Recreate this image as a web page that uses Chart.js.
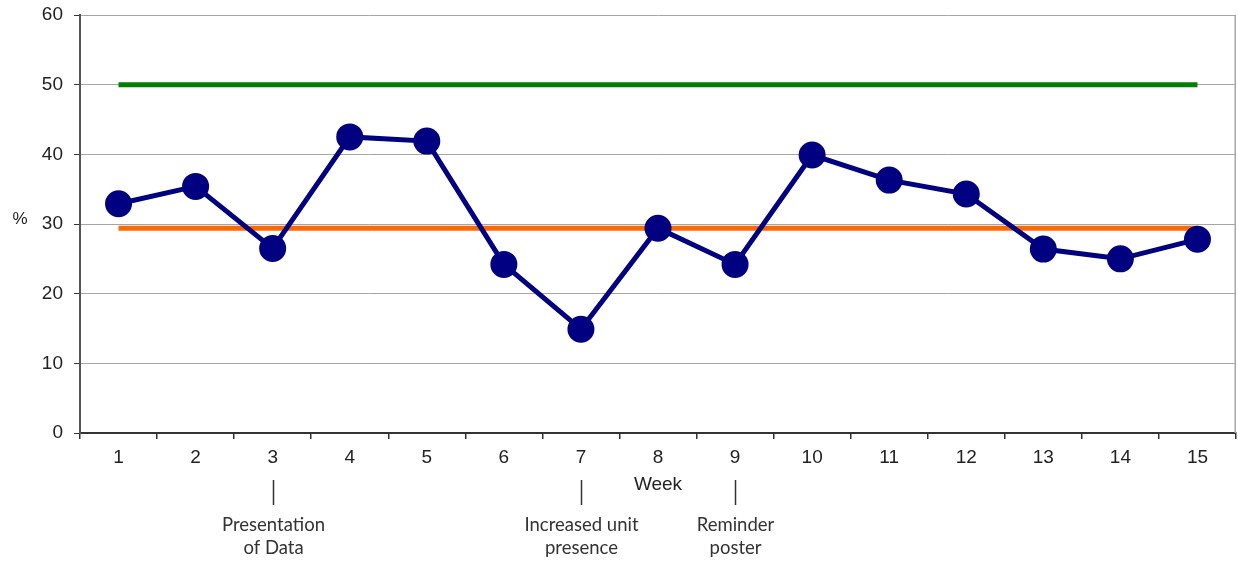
<!DOCTYPE html>
<html>
<head>
<meta charset="utf-8">
<script src="https://cdn.jsdelivr.net/npm/chart.js@4.4.1/dist/chart.umd.min.js"></script>
<style>
html,body{margin:0;padding:0;background:#fff;}
#wrap{width:1238px;height:561px;position:relative;}
</style>
</head>
<body>
<div id="wrap"><canvas id="c" width="1238" height="561"></canvas></div>
<script>
const weeks = ['1','2','3','4','5','6','7','8','9','10','11','12','13','14','15'];
const percent = [32.9, 35.4, 26.5, 42.5, 41.9, 24.2, 14.9, 29.4, 24.2, 39.9, 36.3, 34.3, 26.4, 25.0, 27.8];
const meanValue = 29.4;
const goalValue = 50;
const meanLine = weeks.map(() => meanValue);
const goalLine = weeks.map(() => goalValue);
const yTicks = [0, 10, 20, 30, 40, 50, 60];
const annotations = [
  {week: '3', lines: ['Presentation', 'of Data']},
  {week: '7', lines: ['Increased unit', 'presence']},
  {week: '9', lines: ['Reminder', 'poster']}
];

const extras = {
  id: 'extras',
  afterDraw(chart) {
    const ctx = chart.ctx;
    const x = chart.scales.x, y = chart.scales.y;
    const ca = chart.chartArea;
    ctx.save();
    // right border
    ctx.strokeStyle = '#a6a6a6';
    ctx.lineWidth = 1.5;
    ctx.beginPath();
    ctx.moveTo(ca.right - 0.75, ca.top);
    ctx.lineTo(ca.right - 0.75, ca.bottom);
    ctx.stroke();
    // % label
    ctx.fillStyle = '#222';
    ctx.font = '17px "Liberation Sans", Arial, sans-serif';
    ctx.textAlign = 'center';
    ctx.textBaseline = 'middle';
    ctx.fillText('%', 20, y.getPixelForValue(31) + 2);
    // Week title
    ctx.font = '19px "Liberation Sans", Arial, sans-serif';
    ctx.fillText('Week', (ca.left + ca.right) / 2, ca.bottom + 52);
    // annotations
    annotations.forEach(a => {
      const px = Math.round(x.getPixelForValue(weeks.indexOf(a.week))) + 0.5;
      ctx.strokeStyle = '#333';
      ctx.lineWidth = 1.5;
      ctx.beginPath();
      ctx.moveTo(px, ca.bottom + 47);
      ctx.lineTo(px, ca.bottom + 72);
      ctx.stroke();
      ctx.fillStyle = '#333';
      ctx.font = '18.5px Lato, "Open Sans", sans-serif';
      a.lines.forEach((t, i) => {
        ctx.fillText(t, px, ca.bottom + 92 + i * 23);
      });
    });
    ctx.restore();
  }
};

new Chart(document.getElementById('c'), {
  type: 'line',
  data: {
    labels: weeks,
    datasets: [
      {
        label: '%',
        data: percent,
        borderColor: '#000080',
        backgroundColor: '#000080',
        borderWidth: 5,
        pointRadius: 11,
        pointHoverRadius: 11,
        pointBackgroundColor: '#000080',
        pointBorderColor: '#000080',
        tension: 0,
        order: 0
      },
      {
        label: 'Mean',
        data: meanLine,
        borderColor: '#ff6a00',
        borderWidth: 5,
        pointRadius: 0,
        order: 1
      },
      {
        label: 'Goal',
        data: goalLine,
        borderColor: '#008000',
        borderWidth: 5,
        pointRadius: 0,
        order: 2
      }
    ]
  },
  options: {
    responsive: false,
    animation: false,
    layout: {autoPadding: false, padding: {left: 0, right: 2, top: 15, bottom: 0}},
    plugins: {legend: {display: false}, tooltip: {enabled: false}},
    scales: {
      x: {
        type: 'category',
        offset: true,
        grid: {offset: true, drawOnChartArea: false, drawTicks: true, tickLength: 6, color: '#333', lineWidth: 1.5},
        border: {color: '#333', width: 2},
        ticks: {color: '#222', font: {family: '"Liberation Sans", Arial, sans-serif', size: 19}, padding: 7, maxRotation: 0},
        afterFit(s) { s.height = 128; s.paddingLeft = 0; s.paddingRight = 0; }
      },
      y: {
        min: 0,
        max: 60,
        afterBuildTicks(s) { s.ticks = yTicks.map(v => ({value: v})); },
        grid: {color: '#a6a6a6', lineWidth: 1, tickLength: 6, tickColor: '#333'},
        border: {color: '#555', width: 2},
        ticks: {color: '#222', font: {family: '"Liberation Sans", Arial, sans-serif', size: 19}, padding: 11},
        afterFit(s) { s.width = 80; s.paddingTop = 0; s.paddingBottom = 0; }
      }
    }
  },
  plugins: [extras]
});
</script>
</body>
</html>
